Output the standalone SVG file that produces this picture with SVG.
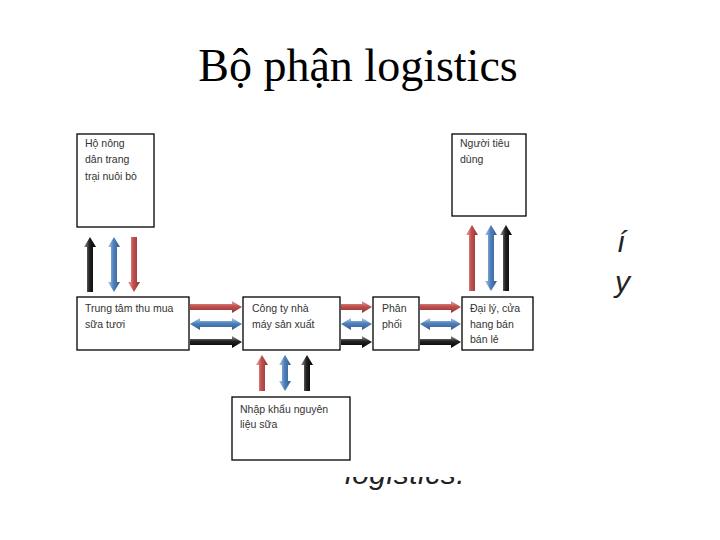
<svg xmlns="http://www.w3.org/2000/svg" width="720" height="540" viewBox="0 0 720 540">
<style>
.box{fill:#fff;stroke:#000;stroke-width:1.3}
.lbl{font-family:"Liberation Sans",Arial,sans-serif;font-size:10.5px;fill:#333}
.title{font-family:"Liberation Serif","Times New Roman",serif;font-size:46px;fill:#000}
.frag{font-family:"Liberation Sans",Arial,sans-serif;font-style:italic;font-size:30px;fill:#222}
</style>
<defs>
<linearGradient id="rh" x1="0" y1="0" x2="0" y2="1"><stop offset="0" stop-color="#e9a7a5"/><stop offset="0.45" stop-color="#c0504d"/><stop offset="1" stop-color="#8e3533"/></linearGradient>
<linearGradient id="bh" x1="0" y1="0" x2="0" y2="1"><stop offset="0" stop-color="#b3cbe8"/><stop offset="0.45" stop-color="#4f81bd"/><stop offset="1" stop-color="#34598a"/></linearGradient>
<linearGradient id="kh" x1="0" y1="0" x2="0" y2="1"><stop offset="0" stop-color="#999"/><stop offset="0.45" stop-color="#222"/><stop offset="1" stop-color="#000"/></linearGradient>
<linearGradient id="rv" x1="0" y1="0" x2="1" y2="0"><stop offset="0" stop-color="#e9a7a5"/><stop offset="0.45" stop-color="#c0504d"/><stop offset="1" stop-color="#8e3533"/></linearGradient>
<linearGradient id="bv" x1="0" y1="0" x2="1" y2="0"><stop offset="0" stop-color="#b3cbe8"/><stop offset="0.45" stop-color="#4f81bd"/><stop offset="1" stop-color="#34598a"/></linearGradient>
<linearGradient id="kv" x1="0" y1="0" x2="1" y2="0"><stop offset="0" stop-color="#999"/><stop offset="0.45" stop-color="#222"/><stop offset="1" stop-color="#000"/></linearGradient>
<clipPath id="clipLog"><rect x="330" y="477" width="170" height="25"/></clipPath>
</defs>
<rect width="720" height="540" fill="#fff"/>
<text class="title" x="358" y="81" text-anchor="middle">Bộ phận logistics</text>
<text class="frag" x="617" y="252">í</text>
<text class="frag" x="615" y="292">y</text>
<g clip-path="url(#clipLog)"><text class="frag" x="345" y="484" font-size="36" letter-spacing="0.5">logistics.</text></g>

<g id="connectors">
<path d="M190,304 H232 V301 L242,307 L232,313 V310 H190 Z" fill="url(#rh)"/>
<path d="M190,324 L200,318 V321 H232 V318 L242,324 L232,330 V327 H200 V330 Z" fill="url(#bh)"/>
<path d="M190,339 H232 V336 L242,342 L232,348 V345 H190 Z" fill="url(#kh)"/>
<path d="M341,304 H362 V301 L372,307 L362,313 V310 H341 Z" fill="url(#rh)"/>
<path d="M341,324 L351,318 V321 H362 V318 L372,324 L362,330 V327 H351 V330 Z" fill="url(#bh)"/>
<path d="M341,339 H362 V336 L372,342 L362,348 V345 H341 Z" fill="url(#kh)"/>
<path d="M420,304 H451 V301 L461,307 L451,313 V310 H420 Z" fill="url(#rh)"/>
<path d="M420,324 L430,318 V321 H451 V318 L461,324 L451,330 V327 H430 V330 Z" fill="url(#bh)"/>
<path d="M420,339 H451 V336 L461,342 L451,348 V345 H420 Z" fill="url(#kh)"/>
<path d="M87,292 V247 H84 L90,237 L96,247 H93 V292 Z" fill="url(#kv)"/>
<path d="M114,237 L120,247 H117 V282 H120 L114,292 L108,282 H111 V247 H108 Z" fill="url(#bv)"/>
<path d="M131,237 V282 H128 L134,292 L140,282 H137 V237 Z" fill="url(#rv)"/>
<path d="M469,291 V235 H466 L472,225 L478,235 H475 V291 Z" fill="url(#rv)"/>
<path d="M491,225 L497,235 H494 V281 H497 L491,291 L485,281 H488 V235 H485 Z" fill="url(#bv)"/>
<path d="M503,291 V235 H500 L506,225 L512,235 H509 V291 Z" fill="url(#kv)"/>
<path d="M259,391 V365 H256 L262,355 L268,365 H265 V391 Z" fill="url(#rv)"/>
<path d="M285,355 L291,365 H288 V381 H291 L285,391 L279,381 H282 V365 H279 Z" fill="url(#bv)"/>
<path d="M304,391 V365 H301 L307,355 L313,365 H310 V391 Z" fill="url(#kv)"/>
</g>

<g id="ho-nong-dan">
<rect class="box" x="77" y="134" width="77" height="93"/>
<text class="lbl" x="85" y="147">Hộ nông</text>
<text class="lbl" x="85" y="163">dân trang</text>
<text class="lbl" x="85" y="180">trại nuôi bò</text>
</g>
<g id="nguoi-tieu-dung">
<rect class="box" x="452" y="134" width="74" height="82"/>
<text class="lbl" x="460" y="147">Người tiêu</text>
<text class="lbl" x="460" y="163">dùng</text>
</g>
<g id="trung-tam">
<rect class="box" x="77" y="297" width="112" height="53"/>
<text class="lbl" x="85" y="312">Trung tâm thu mua</text>
<text class="lbl" x="85" y="328">sữa tươi</text>
</g>
<g id="cong-ty">
<rect class="box" x="243" y="297" width="97" height="53"/>
<text class="lbl" x="252" y="312">Công ty nhà</text>
<text class="lbl" x="252" y="328">máy sản xuất</text>
</g>
<g id="phan-phoi">
<rect class="box" x="373" y="297" width="46" height="53"/>
<text class="lbl" x="382" y="312">Phân</text>
<text class="lbl" x="382" y="328">phối</text>
</g>
<g id="dai-ly">
<rect class="box" x="462" y="297" width="71" height="53"/>
<text class="lbl" x="470" y="312">Đại lý, cửa</text>
<text class="lbl" x="470" y="328">hang bán</text>
<text class="lbl" x="470" y="343">bán lẻ</text>
</g>
<g id="nhap-khau">
<rect class="box" x="232" y="397" width="118" height="63"/>
<text class="lbl" x="240" y="413">Nhập khẩu nguyên</text>
<text class="lbl" x="240" y="428">liệu sữa</text>
</g>
</svg>
